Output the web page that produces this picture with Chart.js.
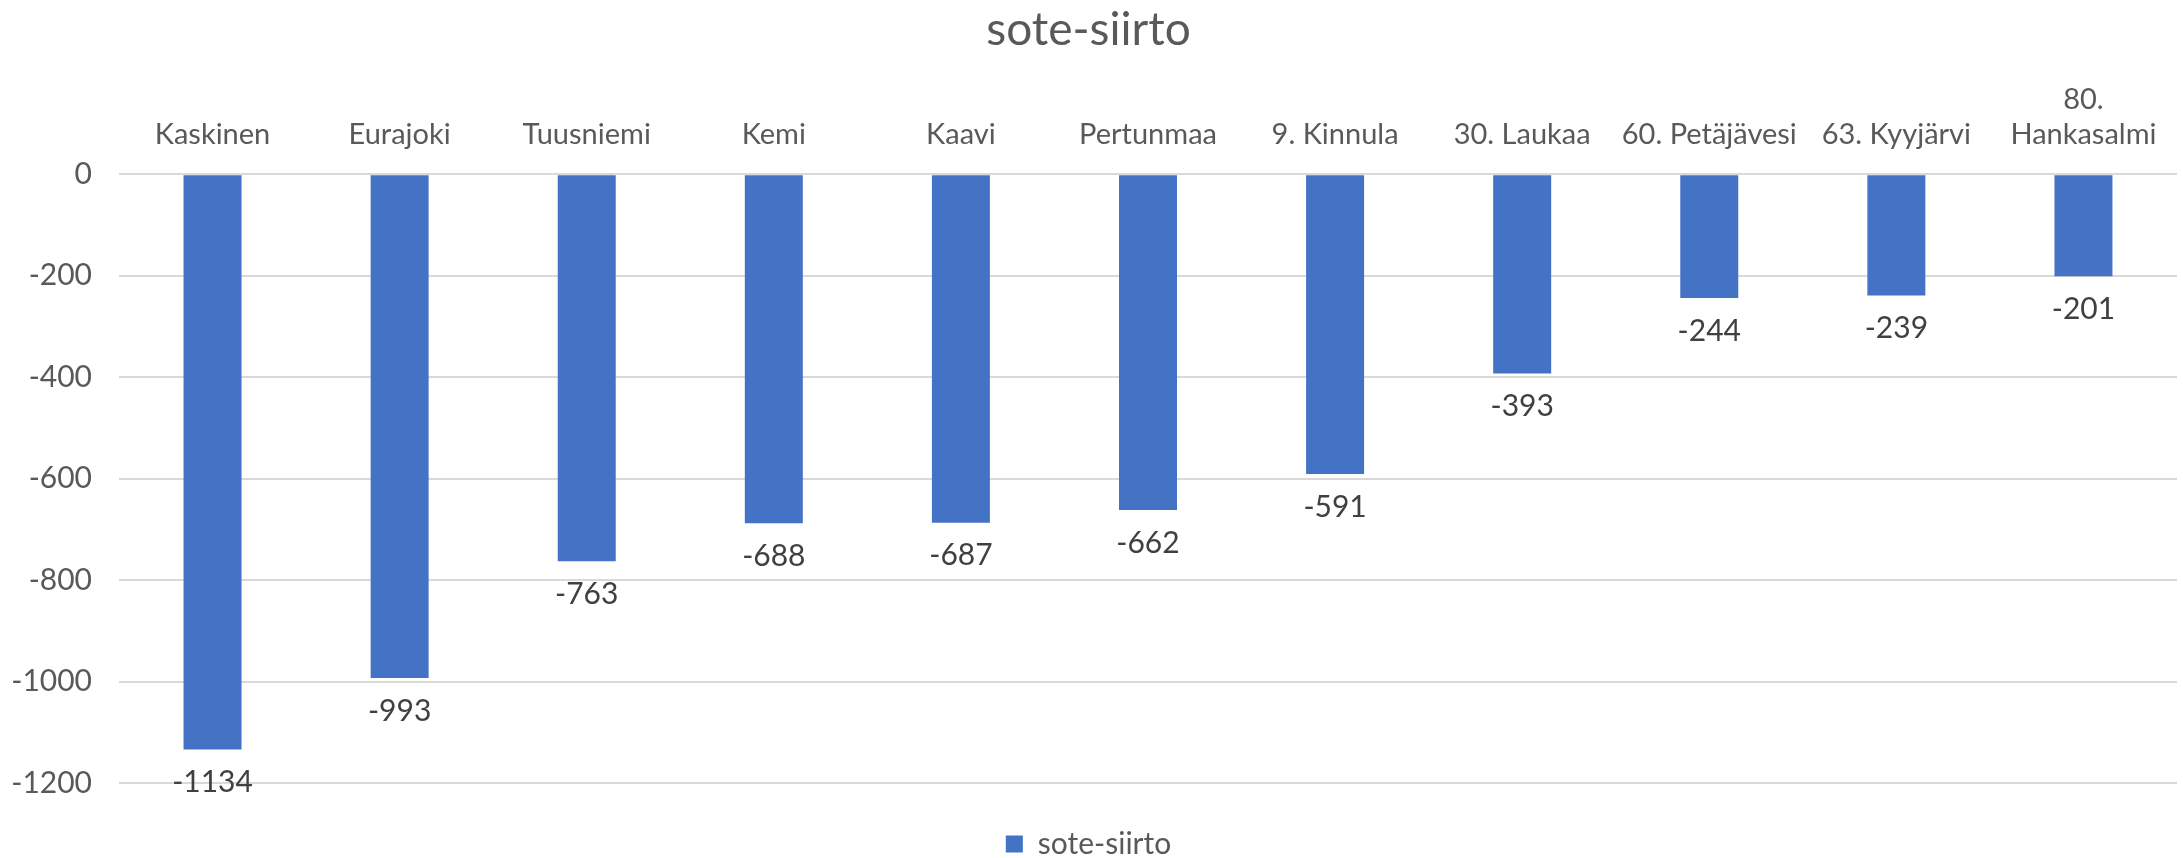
<!DOCTYPE html>
<html>
<head>
<meta charset="utf-8">
<script src="https://cdn.jsdelivr.net/npm/chart.js@4/dist/chart.umd.min.js"></script>
<style>
html,body{margin:0;padding:0;background:#fff;}
#wrap{width:2183px;height:858px;position:relative;}
</style>
</head>
<body>
<div id="wrap"><canvas id="c" width="2183" height="858"></canvas></div>
<script>
const chartTitle = "sote-siirto";
const seriesName = "sote-siirto";
const categories = ["Kaskinen","Eurajoki","Tuusniemi","Kemi","Kaavi","Pertunmaa","9. Kinnula","30. Laukaa","60. Petäjävesi","63. Kyyjärvi",["80.","Hankasalmi"]];
const values = [-1134,-993,-763,-688,-687,-662,-591,-393,-244,-239,-201];
const yMin = -1200, yMax = 0, yStep = 200;

const FONT = "Lato, 'Open Sans', sans-serif";

const dataLabels = {
  id: 'dataLabels',
  afterDatasetsDraw(chart){
    const ctx = chart.ctx;
    const meta = chart.getDatasetMeta(0);
    ctx.save();
    ctx.font = "30px " + FONT;
    ctx.fillStyle = "#404040";
    ctx.textAlign = "center";
    ctx.textBaseline = "top";
    meta.data.forEach((bar,i)=>{
      ctx.fillText(String(chart.data.datasets[0].data[i]), bar.x, bar.y + 18);
    });
    ctx.restore();
  }
};

new Chart(document.getElementById('c'), {
  type: 'bar',
  data: {
    labels: categories,
    datasets: [{
      label: seriesName,
      data: values,
      backgroundColor: '#4472C4',
      borderWidth: 0,
      barPercentage: 0.31,
      categoryPercentage: 1.0
    }]
  },
  options: {
    responsive: false,
    animation: false,
    layout: { padding: { left: 0, right: 6, top: 0, bottom: -11 } },
    plugins: {
      title: {
        display: true,
        text: chartTitle,
        color: '#595959',
        font: { family: FONT, size: 46, weight: 'normal' },
        padding: { top: 3, bottom: 0 }
      },
      legend: {
        position: 'bottom',
        labels: {
          color: '#595959',
          font: { family: FONT, size: 30 },
          boxWidth: 17,
          boxHeight: 17,
          padding: 46
        }
      },
      tooltip: { enabled: false }
    },
    scales: {
      x: {
        position: 'top',
        grid: { display: false, drawTicks: false },
        border: { display: false },
        ticks: {
          color: '#595959',
          font: { family: FONT, size: 29 },
          padding: 22,
          maxRotation: 0,
          autoSkip: false
        },
        afterFit(scale){ scale.height = 116; }
      },
      y: {
        min: yMin,
        max: yMax,
        grid: { color: '#d9d9d9', lineWidth: 2, drawTicks: false },
        border: { display: false },
        ticks: {
          stepSize: yStep,
          color: '#595959',
          font: { family: FONT, size: 30 },
          padding: 27,
          callback: (v) => String(v)
        },
        afterFit(scale){ scale.width = 119; }
      }
    }
  },
  plugins: [dataLabels]
});
</script>
</body>
</html>
